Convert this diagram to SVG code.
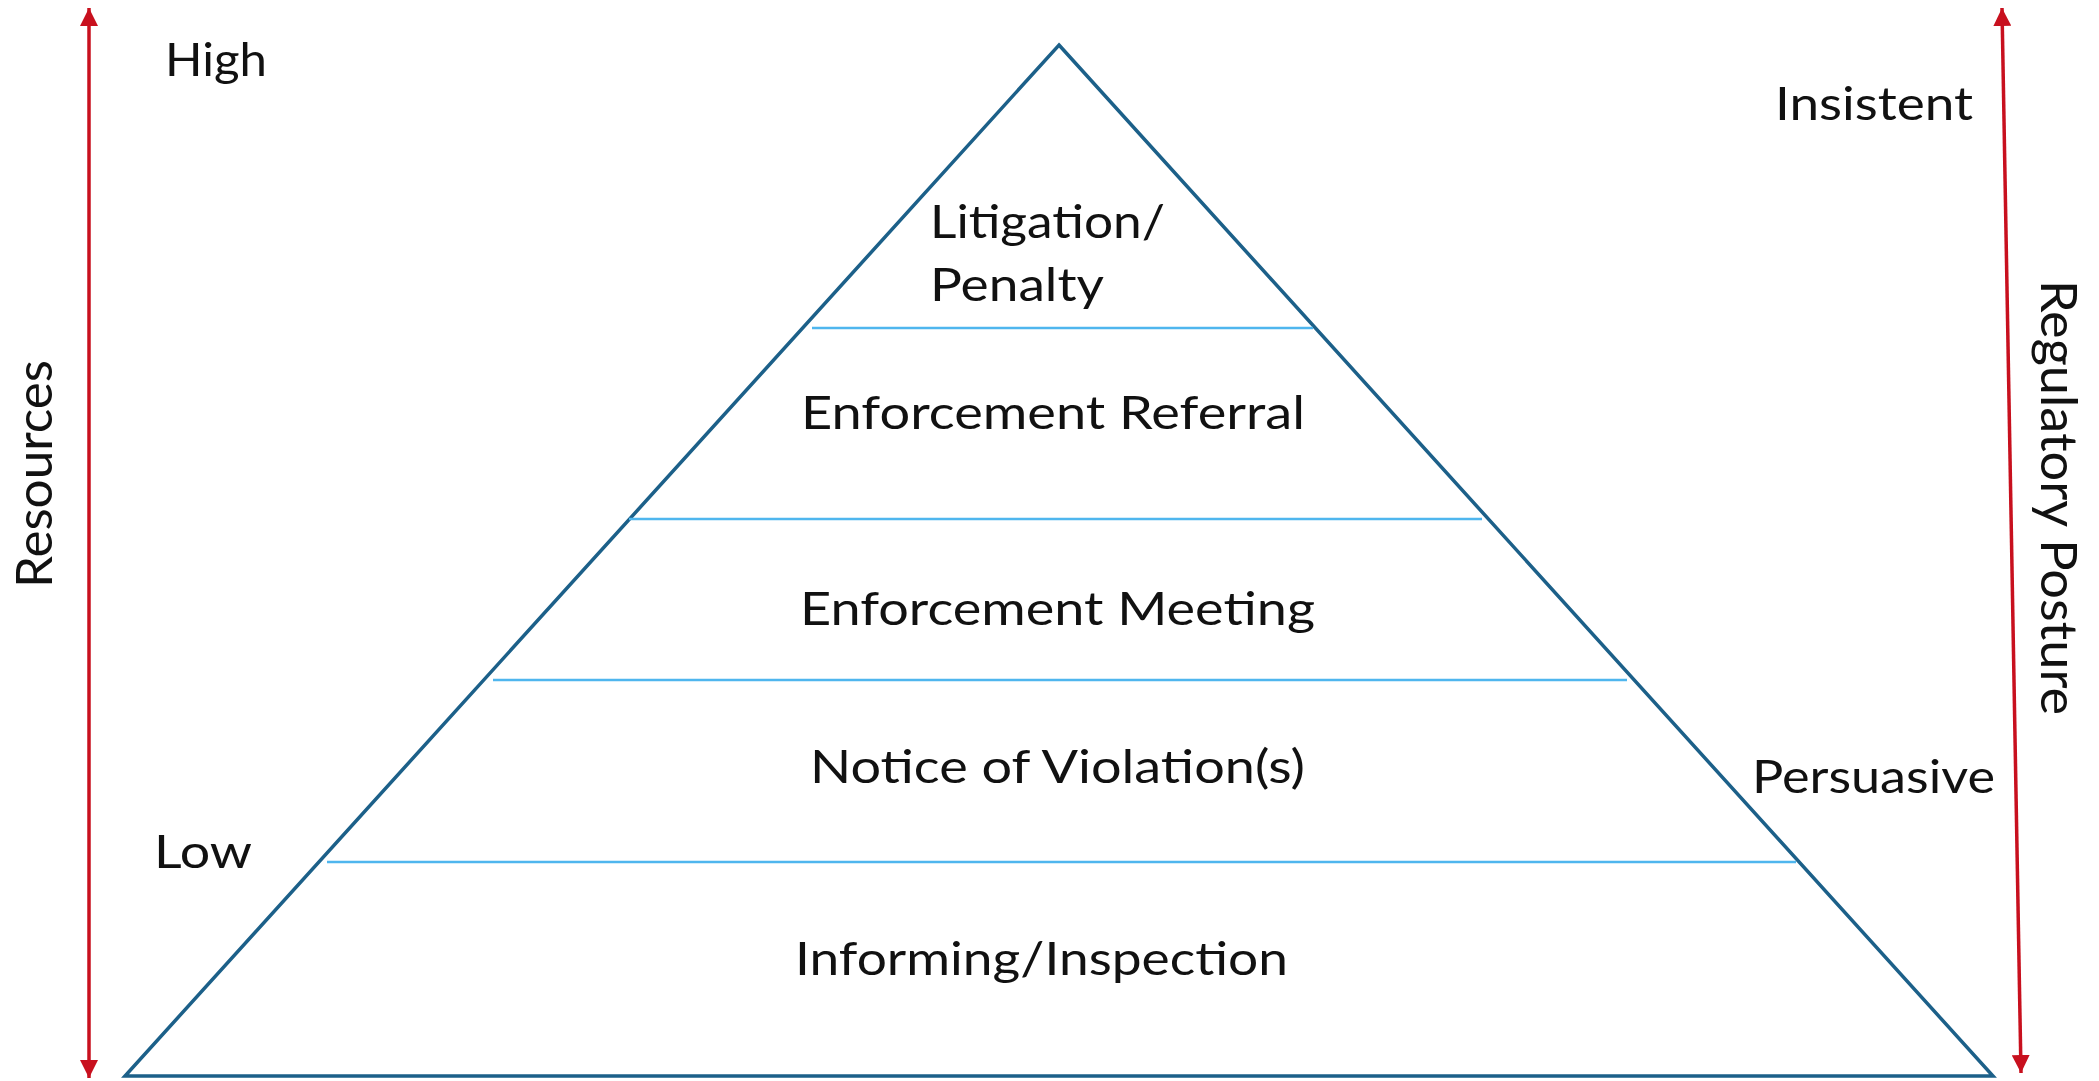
<svg xmlns="http://www.w3.org/2000/svg" width="2099" height="1081" viewBox="0 0 2099 1081">
<style>
.t{font-family:Lato,"Open Sans","Liberation Sans",sans-serif;font-size:47px;fill:#111}
.tier{stroke:#4fb6ee;stroke-width:2.5;fill:none}
.tri{stroke:#1c6089;stroke-width:3.5;fill:none;stroke-linejoin:miter}
.arr{stroke:#c8101e;stroke-width:3.5;fill:none}
</style>
<defs>
<marker id="ah" viewBox="0 0 10 10" refX="10" refY="5" markerWidth="18" markerHeight="18" markerUnits="userSpaceOnUse" orient="auto-start-reverse">
<path d="M0,0 L10,5 L0,10 z" fill="#c8101e"/>
</marker>
</defs>
<rect width="2099" height="1081" fill="#fff"/>
<g id="pyramid">
<polygon class="tri" points="1059,45 1993,1076 125,1076"/>
</g>
<g id="tiers">
<line class="tier" x1="812" y1="328" x2="1313" y2="328"/>
<line class="tier" x1="629" y1="519" x2="1482" y2="519"/>
<line class="tier" x1="493" y1="680" x2="1627" y2="680"/>
<line class="tier" x1="327" y1="862" x2="1796" y2="862"/>
</g>
<g id="connectors">
<line class="arr" x1="89" y1="8" x2="89" y2="1078" marker-start="url(#ah)" marker-end="url(#ah)"/>
<line class="arr" x1="2002" y1="8" x2="2021" y2="1073" marker-start="url(#ah)" marker-end="url(#ah)"/>
</g>
<g id="labels">
<text class="t" x="165" y="76" textLength="102" lengthAdjust="spacingAndGlyphs">High</text>
<text class="t" x="1775" y="120" textLength="198" lengthAdjust="spacingAndGlyphs">Insistent</text>
<text class="t" x="154" y="868" textLength="98" lengthAdjust="spacingAndGlyphs">Low</text>
<text class="t" x="1752" y="793" textLength="243" lengthAdjust="spacingAndGlyphs">Persuasive</text>
<text class="t" transform="translate(52,588) rotate(-90)" x="0" y="0" textLength="228" lengthAdjust="spacingAndGlyphs" style="font-size:50px">Resources</text>
<text class="t" transform="translate(2041,280) rotate(90)" x="0" y="0" textLength="435" lengthAdjust="spacingAndGlyphs" style="font-size:50px">Regulatory Posture</text>
</g>
<g id="tier-litigation">
<text class="t" x="930" y="238" textLength="235" lengthAdjust="spacingAndGlyphs">Litigation/</text>
<text class="t" x="930" y="301" textLength="174" lengthAdjust="spacingAndGlyphs">Penalty</text>
</g>
<g id="tier-referral">
<text class="t" x="801" y="429" textLength="504" lengthAdjust="spacingAndGlyphs">Enforcement Referral</text>
</g>
<g id="tier-meeting">
<text class="t" x="800" y="625" textLength="515" lengthAdjust="spacingAndGlyphs">Enforcement Meeting</text>
</g>
<g id="tier-notice">
<text class="t" x="810" y="783" textLength="495" lengthAdjust="spacingAndGlyphs">Notice of Violation(s)</text>
</g>
<g id="tier-informing">
<text class="t" x="795" y="975" textLength="493" lengthAdjust="spacingAndGlyphs">Informing/Inspection</text>
</g>
</svg>
